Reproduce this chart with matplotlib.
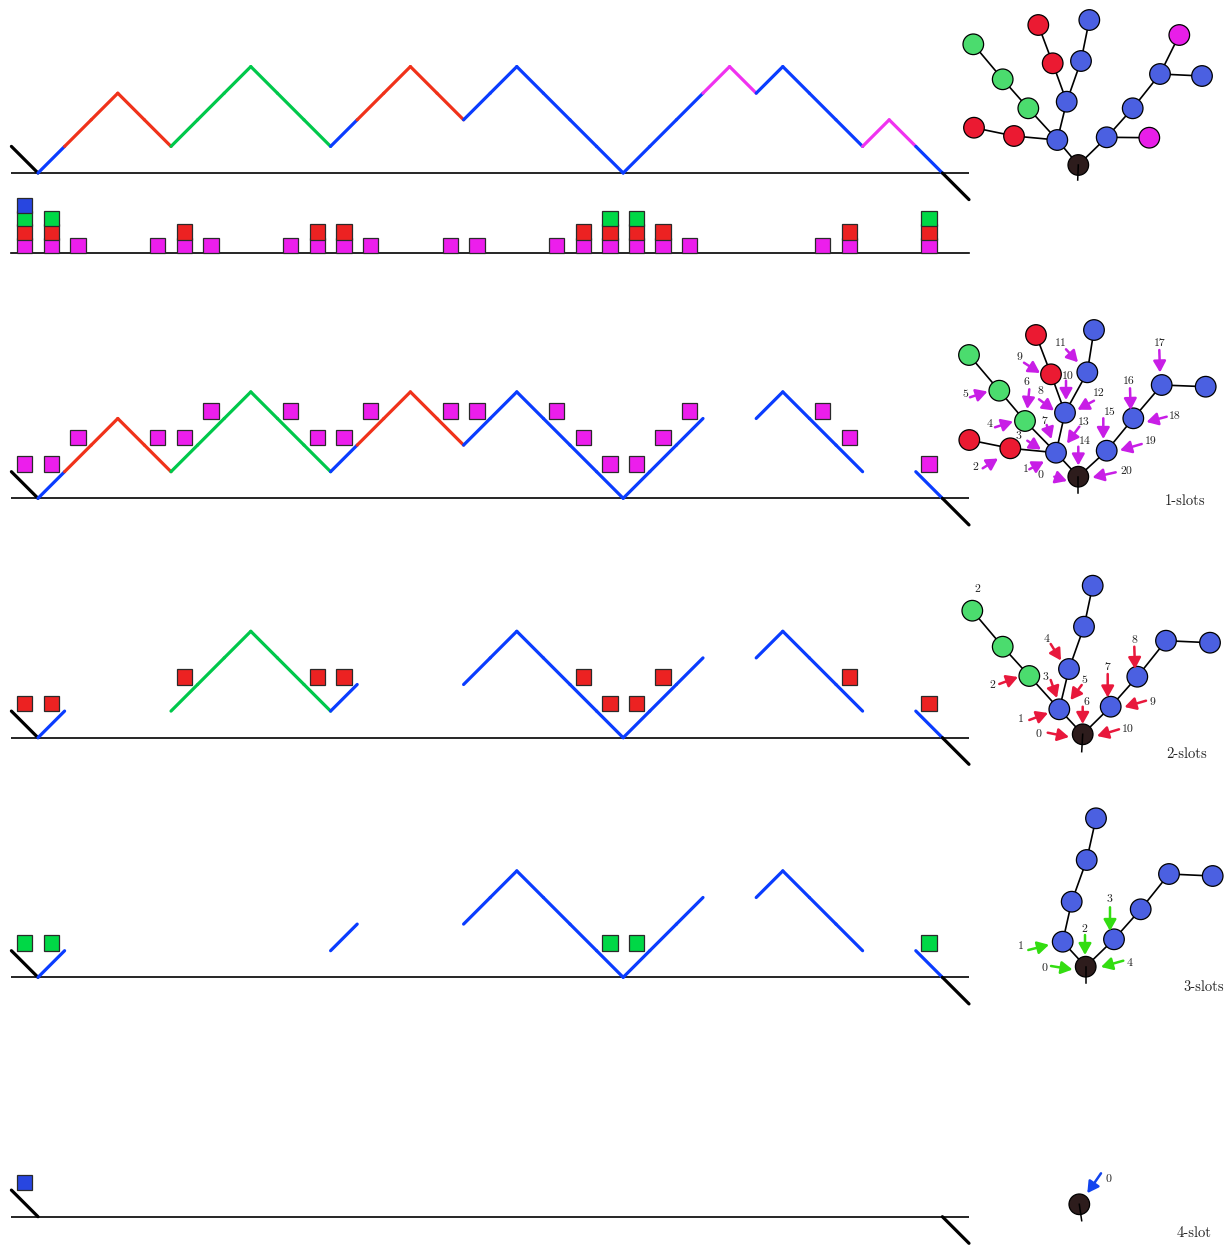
import matplotlib
matplotlib.use("Agg")
import matplotlib.pyplot as plt
from matplotlib.patches import Circle, Rectangle, FancyArrowPatch

# ---------------------------------------------------------------- data
# Lattice path heights at lattice points i = -1 .. 35
path_heights = [1, 0, 1, 2, 3, 2, 1, 2, 3, 4, 3, 2, 1, 2, 3, 4, 3, 2, 3, 4,
                3, 2, 1, 0, 1, 2, 3, 4, 3, 4, 3, 2, 1, 2, 1, 0, -1]
# Colour class of each step k (from point k-1 to point k), k = 0 .. 35
step_class = (["K", "B"] + ["R"] * 4 + ["G"] * 6 + ["B"] + ["R"] * 4 +
              ["B"] * 9 + ["M"] * 2 + ["B"] * 4 + ["M"] * 2 + ["B", "K"])

# Steps carrying a slot of each kind
slots_m = [0, 1, 2, 5, 6, 7, 10, 11, 12, 13, 16, 17, 20, 21, 22, 23, 24, 25, 30, 31, 34]
slots_r = [0, 1, 6, 11, 12, 21, 22, 23, 24, 31, 34]
slots_g = [0, 1, 22, 23, 34]
slots_b = [0]

# Tree: node names, parents and colour classes
node_names = ["root", "A", "B", "r1", "r2", "g1", "g2", "g3", "b1", "r3", "r4",
              "b2", "b3", "b4", "m1", "b5", "m2", "b6"]
node_parent = [None, "root", "root", "A", "r1", "A", "g1", "g2", "A", "b1", "r3",
               "b1", "b2", "B", "B", "b4", "b5", "b5"]
node_class = ["root", "B", "B", "R", "R", "G", "G", "G", "B", "R", "R",
              "B", "B", "B", "M", "B", "M", "B"]

panel_titles = ["", "1-slots", "2-slots", "3-slots", "4-slot"]

# ---------------------------------------------------------------- style
rank = {"M": 1, "R": 2, "G": 3, "B": 4}
line_col = {"K": "#000000", "B": "#0a3cff", "R": "#f0321a", "G": "#00c84b", "M": "#f032f0"}
sq_col = {"M": "#ec1eec", "R": "#ec2222", "G": "#00d846", "B": "#2846e0"}
node_col = {"root": "#2d1c1c", "B": "#4b60e1", "R": "#eb1a32", "G": "#4bdc6e", "M": "#e81ee8"}
arrow_col = {1: "#c81ee6", 2: "#e8183c", 3: "#33dd11", 4: "#1144ee"}
label_font = "cmr10"

X0 = 38.0          # x of lattice point 0
U = 26.6           # lattice unit
baselines = [173.0, 498.3, 737.7, 977.3, 1216.7]
hist_base = 253.0
SQ = 15.3
NODE_R = 10.3

# Node positions for each tree drawing
tree_pos = [
    {"root": (1078.3, 165), "A": (1057.3, 140), "B": (1106.7, 137.3),
     "r1": (1014, 136), "r2": (974, 127.7), "g1": (1028.3, 108.3),
     "g2": (1002.7, 79.3), "g3": (973.3, 44.3), "b1": (1066.7, 101.7),
     "r3": (1052.7, 63.3), "r4": (1038.3, 25), "b2": (1081, 61), "b3": (1089.3, 20),
     "b4": (1132.7, 108.3), "m1": (1149.3, 137.7), "b5": (1160, 74),
     "m2": (1179.3, 35), "b6": (1202, 76)},
    {"root": (1078.3, 476.7), "A": (1056, 452.7), "B": (1106.7, 450.7),
     "r1": (1010.3, 448.3), "r2": (969.3, 440), "g1": (1025, 421),
     "g2": (999.3, 390.7), "g3": (969, 355), "b1": (1065, 412.7),
     "r3": (1051, 374.3), "r4": (1036, 335), "b2": (1087.3, 372.3), "b3": (1094, 330),
     "b4": (1133.3, 418.3), "b5": (1161.7, 385), "b6": (1205.7, 386.7)},
    {"root": (1082.7, 734.3), "A": (1059.3, 709.3), "B": (1110.7, 706.7),
     "g1": (1029.3, 676), "g2": (1002.7, 646.7), "g3": (972.3, 610.7),
     "b1": (1069, 669), "b2": (1084, 626.7), "b3": (1092.7, 585.7),
     "b4": (1137.3, 676.7), "b5": (1166, 640.7), "b6": (1210, 642.7)},
    {"root": (1085.7, 966.7), "A": (1062.7, 941.7), "B": (1114, 939.3),
     "b1": (1071.7, 901.7), "b2": (1086.7, 860), "b3": (1096, 818.3),
     "b4": (1140.7, 909.3), "b5": (1169, 874), "b6": (1212.7, 876)},
    {"root": (1079.3, 1204.3)},
]
stem_end = [(1077.7, 180), (1078.3, 493.3), (1081.7, 751.7), (1085.7, 983.3), (1081.7, 1220.7)]

# Slot arrows per panel: (tail, head, label position)
slot_arrows = {
    1: [((1054.3, 476.7), (1067, 481), (1041, 475.7)),
        ((1029.3, 469.3), (1044, 461.5), (1026, 469.3)),
        ((982.7, 468.3), (998, 458.5), (975.7, 467.7)),
        ((1027.3, 440.7), (1041, 449.5), (1019, 436.7)),
        ((995, 427.3), (1013, 421.5), (990, 424)),
        ((970, 397.3), (987.5, 391.5), (965.7, 394.3)),
        ((1029.3, 389.3), (1027.3, 409), (1026.7, 382.7)),
        ((1046.7, 425), (1051.5, 439), (1044, 421.7)),
        ((1039, 399.3), (1054, 410.5), (1040, 391.7)),
        ((1024, 362.7), (1040, 373), (1019.3, 357.3)),
        ((1066, 380.7), (1066, 400), (1067.7, 376)),
        ((1066, 349.3), (1078, 362.3), (1060.7, 343.3)),
        ((1094, 400.7), (1077.5, 409.7), (1098.3, 393.3)),
        ((1079.3, 426.7), (1067, 443.5), (1084, 422)),
        ((1078.3, 446.7), (1078.3, 465.5), (1085, 441.7)),
        ((1103.3, 418.3), (1103.3, 439), (1109.3, 412.3)),
        ((1130, 388.3), (1130.7, 410), (1128.3, 381.7)),
        ((1159.3, 350), (1160, 372.5), (1159.3, 343.3)),
        ((1166.7, 416.7), (1146.5, 422), (1175, 416)),
        ((1141.7, 444), (1120, 450.3), (1150.7, 441.7)),
        ((1115.7, 472.3), (1092.5, 477.5), (1126.7, 471))],
    2: [((1047.7, 732.7), (1069, 737), (1039, 734.3)),
        ((1029.3, 720), (1048, 713), (1021, 719)),
        ((999.3, 684), (1018, 677), (992.7, 685)),
        ((1050.7, 680), (1057, 698), (1045.3, 677.3)),
        ((1050.7, 644), (1061, 660.5), (1046.7, 639.3)),
        ((1081.7, 685), (1070.5, 700), (1084, 680)),
        ((1082.7, 706.7), (1082.7, 724), (1086.7, 702.3)),
        ((1107.7, 674), (1107.7, 697.5), (1107.7, 667.7)),
        ((1134.3, 646.7), (1135, 669), (1134.3, 640.7)),
        ((1146, 700.7), (1124.5, 707), (1152.7, 702.3)),
        ((1119, 729.3), (1097, 736), (1128.3, 729.3))],
    3: [((1051, 966), (1072.5, 969.5), (1045, 968.3)),
        ((1028.3, 950), (1049, 944.8), (1021, 946.7)),
        ((1085, 935), (1085, 955), (1084.3, 929.3)),
        ((1110, 907.3), (1110, 931), (1109.3, 899)),
        ((1123.3, 960.7), (1101, 967), (1130, 963.3))],
    4: [((1101, 1173.3), (1087.3, 1193.2), (1109, 1179))],
}
title_pos = [None, (1185, 500.7), (1186.7, 754.3), (1204, 986.7), (1194, 1232.7)]

# ---------------------------------------------------------------- figure
fig = plt.figure(figsize=(12.25, 12.47), dpi=100)
ax = fig.add_axes([0, 0, 1, 1])
ax.set_xlim(0, 1225)
ax.set_ylim(1247, 0)
ax.axis("off")

slot_lists = {"M": slots_m, "R": slots_r, "G": slots_g, "B": slots_b}


def px(i):
    return X0 + i * U


def height(i):
    """Height of lattice point i (i starts at -1)."""
    return path_heights[i + 1]


def draw_square(xc, ybottom, cls, z=4):
    ax.add_patch(Rectangle((xc - SQ / 2, ybottom - SQ), SQ, SQ,
                           facecolor=sq_col[cls], edgecolor="#2a2a2a",
                           linewidth=0.9, zorder=z))


for p, base in enumerate(baselines):
    # horizontal axis line
    ax.plot([px(-1), px(35)], [base, base], color="black", lw=1.2, zorder=1,
            solid_capstyle="butt")
    # path steps that survive at this level
    for k, cls in enumerate(step_class):
        if cls != "K" and rank[cls] <= p:
            continue
        i0, i1 = k - 1, k
        ax.plot([px(i0), px(i1)],
                [base - height(i0) * U, base - height(i1) * U],
                color=line_col[cls], lw=2.3, solid_capstyle="round", zorder=2)
    # slot squares sitting on the path
    if p >= 1:
        cls = [c for c, r in rank.items() if r == p][0]
        for k in slot_lists[cls]:
            hmax = max(height(k - 1), height(k))
            draw_square(px(k - 0.5), base - hmax * U, cls)

# stacked count of slots under the first path
ax.plot([px(-1), px(35)], [hist_base, hist_base], color="black", lw=1.2, zorder=1)
for j, cls in enumerate(["M", "R", "G", "B"]):
    for k in slot_lists[cls]:
        draw_square(px(k - 0.5), hist_base - j * U / 2, cls, z=4 + j)

# trees
for p, pos in enumerate(tree_pos):
    x_r, y_r = pos["root"]
    for name, par in zip(node_names, node_parent):
        if par is None or name not in pos:
            continue
        (xa, ya), (xb, yb) = pos[name], pos[par]
        ax.plot([xa, xb], [ya, yb], color="black", lw=1.2, zorder=5)
    for name, cls in zip(node_names, node_class):
        if name not in pos:
            continue
        ax.add_patch(Circle(pos[name], NODE_R, facecolor=node_col[cls],
                            edgecolor="black", linewidth=0.9, zorder=6))
    # root stem, drawn over the root node
    ax.plot([x_r, stem_end[p][0]], [y_r, stem_end[p][1]], color="black", lw=1.1, zorder=7)

# slot arrows and labels
for p, arrows in slot_arrows.items():
    for n, (tail, head, lab) in enumerate(arrows):
        ax.add_patch(FancyArrowPatch(tail, head, arrowstyle="-|>,head_length=0.75,head_width=0.42",
                                     mutation_scale=9, color=arrow_col[p], lw=1.8,
                                     shrinkA=0, shrinkB=0, zorder=8))
        ax.text(lab[0], lab[1], str(n), fontsize=8.5, family=label_font,
                ha="center", va="center", color="#222222", zorder=9)
    ax.text(title_pos[p][0], title_pos[p][1], panel_titles[p], fontsize=10.5,
            family=label_font, ha="center", va="center", color="#222222")

# lone level label beside the first leaf of the 2-slot tree
ax.text(977.7, 589.3, "2", fontsize=8.5, family=label_font, ha="center", va="center",
        color="#222222")

fig.savefig("out.png", dpi=100)
